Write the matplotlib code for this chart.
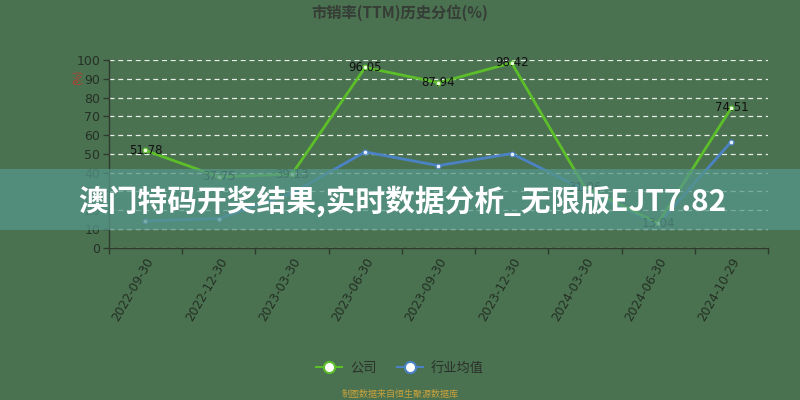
import matplotlib
matplotlib.use("Agg")
import matplotlib.pyplot as plt
from matplotlib.patches import Rectangle
from matplotlib.lines import Line2D

plt.rcParams['font.family'] = ['Noto Sans CJK SC', 'DejaVu Sans']

dates = ["2022-09-30", "2022-12-30", "2023-03-30", "2023-06-30", "2023-09-30",
         "2023-12-30", "2024-03-30", "2024-06-30", "2024-10-29"]
company = [51.78, 37.75, 39.13, 96.05, 87.94, 98.42, 31.96, 13.04, 74.51]
industry = [14.2, 15.5, 29.0, 51.0, 43.7, 50.1, 30.8, 12.5, 56.5]
yticks = [0, 10, 20, 30, 40, 50, 60, 70, 80, 90, 100]

bg = '#4a7150'
green = '#5cbf2a'
blue = '#4a82c4'
dark = '#2e3a2e'

fig = plt.figure(figsize=(8, 4), dpi=100, facecolor=bg)
ax = fig.add_axes([0.136, 0.381, 0.824, 0.469], facecolor=bg)

x = list(range(len(dates)))
ax.plot(x, industry, color=blue, lw=2.0, marker='o', ms=3.5,
        mfc='#e8f0ff', mec=blue, mew=0.8, zorder=3)
ax.plot(x, company, color=green, lw=2.0, marker='o', ms=3.5,
        mfc='#eaffdd', mec=green, mew=0.8, zorder=4)
for xi, v in zip(x, company):
    ax.text(xi, v, f"{v:.2f}", ha='center', va='center', fontsize=8.5,
            color='#111111', zorder=5, family=['DejaVu Sans'])

ax.set_xlim(-0.5, len(dates) - 0.5)
ax.set_ylim(0, 100)
ax.set_yticks(yticks)
ax.set_yticklabels([str(t) for t in yticks], fontsize=9, color='#263026',
                   family=['DejaVu Sans'])
ax.set_xticks(x)
ax.set_xticklabels(dates, rotation=60, ha='right', rotation_mode='anchor',
                   fontsize=8.8, color='#243024', family=['DejaVu Sans'])
ax.tick_params(axis='x', length=0, pad=6)
ax.set_xticks([i - 0.5 for i in range(len(dates) + 1)], minor=True)
ax.tick_params(axis='x', which='minor', length=4, color=dark, width=1)
ax.tick_params(axis='y', length=4, color=dark, width=1, pad=2)

ax.yaxis.grid(True, color='#e8eee8', ls=(0, (4, 3)), lw=0.9)
ax.set_axisbelow(True)
for s in ['top', 'right']:
    ax.spines[s].set_visible(False)
for s in ['left', 'bottom']:
    ax.spines[s].set_color(dark)
    ax.spines[s].set_linewidth(1.0)

fig.text(0.5, 1 - 13 / 400, "市销率(TTM)历史分位(%)", ha='center', va='center',
         fontsize=11, fontweight='bold', color='#363c36')
fig.text(78 / 800, 1 - 77 / 400, "(%)", ha='center', va='center', rotation=90,
         fontsize=7, color='#c0392b')

handles = [
    Line2D([], [], color=green, lw=1.5, marker='o', ms=8, mfc='white', mec=green, mew=1.5),
    Line2D([], [], color=blue, lw=1.5, marker='o', ms=8, mfc='white', mec=blue, mew=1.5),
]
fig.legend(handles, ["公司", "行业均值"], loc='center',
           bbox_to_anchor=(0.5, 1 - 368 / 400), ncol=2, frameon=False,
           fontsize=9.5, labelcolor='#2a302a', handlelength=2.0,
           columnspacing=1.5, handletextpad=0.6)

fig.text(0.5, 1 - 394 / 400, "制图数据来自恒生聚源数据库", ha='center', va='center',
         fontsize=6.5, color='#c9a23c')

fig.patches.append(Rectangle((0, 1 - 230 / 400), 1, 61 / 400, transform=fig.transFigure,
                             facecolor='#56968a', alpha=0.75, edgecolor='none', zorder=10))
fig.text(78 / 800, 1 - 201 / 400, "澳门特码开奖结果,实时数据分析_无限版EJT7.82",
         ha='left', va='center', fontsize=21.4, fontweight='bold', color='white', zorder=11)

fig.savefig("out.png", dpi=100, facecolor=bg)
